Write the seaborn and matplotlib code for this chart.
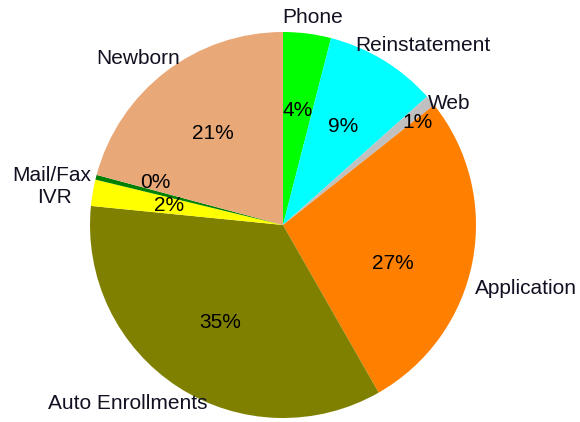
import numpy as np
import matplotlib
matplotlib.use("Agg")
import matplotlib.pyplot as plt
import seaborn as sns

# slice shares (percent), clockwise from 12 o'clock
categories = ["Phone", "Reinstatement", "Web", "Application",
              "Auto Enrollments", "IVR", "Mail/Fax", "Newborn"]
shares = [4.0, 9.4, 0.9, 27.4, 34.8, 2.2, 0.4, 20.8]
slice_colors = ["#00FF00", "#00FFFF", "#C0C0C0", "#FF8000",
                "#808000", "#FFFF00", "#008000", "#E9A878"]

# small nudges (data units, radius = 1) so text sits where the original put it
label_nudge = [(-0.14, -0.016), (-0.197, -0.01), (-0.093, -0.078), (-0.083, -0.119),
               (0.207, 0.0), (-0.01, -0.041), (0.073, -0.016), (0.135, -0.01)]
pct_nudge = [(0, 0), (0, 0), (0.24, 0.145), (-0.02, -0.085),
             (0, 0), (0, 0), (-0.08, 0.073), (0, 0)]

sns.set_theme(style="white")
plt.rcParams["font.family"] = ["Liberation Sans", "DejaVu Sans"]

fig = plt.figure(figsize=(5.8, 4.22), dpi=100)
ax = fig.add_axes([90 / 580, 4 / 422, 386 / 580, 386 / 422])

wedges, texts, pcts = ax.pie(
    shares, labels=categories, colors=slice_colors,
    startangle=90, counterclock=False, radius=1,
    labeldistance=1.1, pctdistance=0.6,
    autopct="%.0f%%",
    wedgeprops=dict(linewidth=0),
    textprops=dict(fontsize=15, color="#111122"),
)
for t, (dx, dy) in zip(texts, label_nudge):
    x, y = t.get_position()
    t.set_position((x + dx, y + dy))
for t, (dx, dy) in zip(pcts, pct_nudge):
    x, y = t.get_position()
    t.set_position((x + dx, y + dy))
    t.set_color("black")

ax.set_xlim(-1, 1)
ax.set_ylim(-1, 1)
ax.set_aspect("equal")
ax.axis("off")

fig.savefig("out.png", dpi=100)
